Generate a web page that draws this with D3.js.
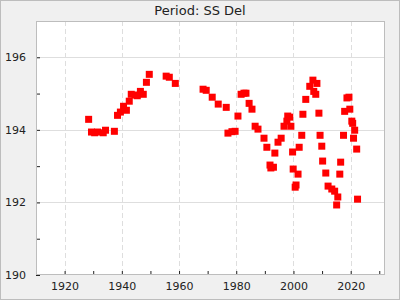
<!DOCTYPE html>
<html><head><meta charset="utf-8">
<script src="https://cdn.jsdelivr.net/npm/d3@7"></script>
<style>html,body{margin:0;padding:0;background:#f0f0f0;}svg{display:block;}</style>
</head><body>
<svg id="c" width="400" height="300"></svg>
<script>
const title = "Period: SS Del";
const years = [1928.4,1929.4,1930.5,1931.5,1933.5,1934.3,1937.4,1938.5,1939.5,1940.6,1941.6,1942.6,1943.3,1944.6,1945.4,1946.5,1947.5,1948.6,1949.6,1955.5,1956.6,1958.7,1968.4,1969.5,1971.6,1973.7,1976.5,1977.1,1978.5,1979.6,1980.6,1981.7,1982.7,1983.4,1984.5,1985.5,1986.6,1987.6,1989.7,1990.7,1991.8,1992.1,1993.0,1993.5,1994.6,1995.7,1996.7,1997.7,1998.0,1998.7,1999.1,1999.7,1999.9,2000.6,2000.9,2001.6,2002.0,2002.9,2003.3,2004.3,2005.7,2006.8,2007.1,2007.8,2008.2,2008.9,2009.3,2009.9,2010.2,2011.3,2012.1,2013.4,2014.4,2015.5,2015.1,2016.2,2016.5,2017.5,2017.9,2018.7,2019.4,2019.7,2020.4,2020.7,2021.4,2021.0,2022.1,2022.4];
const periods = [194.29,193.94,193.92,193.94,193.92,193.99,193.96,194.40,194.49,194.65,194.54,194.79,194.98,194.96,194.94,195.06,194.98,195.31,195.53,195.48,195.45,195.28,195.12,195.09,194.90,194.71,194.62,193.91,193.95,193.96,194.38,194.98,195.01,195.01,194.73,194.57,194.10,194.02,193.77,193.52,193.03,192.95,192.97,193.36,193.66,193.77,194.10,194.24,194.38,194.35,194.10,193.39,192.92,192.42,192.48,192.78,193.52,193.85,194.43,194.84,195.20,195.37,195.06,194.98,195.28,194.46,193.85,193.55,193.14,192.81,192.45,192.37,192.31,192.15,191.93,192.78,193.11,193.85,194.51,194.88,194.90,194.57,194.24,194.18,193.99,193.77,193.47,192.09];
const xDomain = [1910, 2032];
const yDomain = [190, 197];
const xMajor = [1920,1940,1960,1980,2000,2020];
const xMinor = [1910,1930,1950,1970,1990,2010,2030];
const yMajor = [190,192,194,196];
const yMinor = [191,193,195];

const svg = d3.select("#c");
const W = 400, H = 300;
const m = {l:36, r:15, t:21, b:25};
const pw = W - m.l - m.r, ph = H - m.t - m.b;

svg.append("rect").attr("x",0.5).attr("y",0.5).attr("width",W-1).attr("height",H-1)
  .attr("fill","#f0f0f0").attr("stroke","#bdbdbd");

svg.append("text").attr("x",W/2).attr("y",15).attr("text-anchor","middle")
  .attr("font-family","DejaVu Sans").attr("font-size",13).attr("fill","#222").text(title);

const x = d3.scaleLinear().domain(xDomain).range([m.l, m.l+pw]);
const y = d3.scaleLinear().domain(yDomain).range([m.t+ph, m.t]);

svg.append("rect").attr("x",m.l).attr("y",m.t).attr("width",pw).attr("height",ph).attr("fill","#fff");

const g = svg.append("g");
// grid
g.selectAll(".hg").data(yMajor.filter(v=>v>yDomain[0])).enter().append("line")
  .attr("x1",m.l).attr("x2",m.l+pw).attr("y1",d=>Math.round(y(d))+0.5).attr("y2",d=>Math.round(y(d))+0.5)
  .attr("stroke","#dedede").attr("stroke-width",1);
g.selectAll(".vg").data(xMajor).enter().append("line")
  .attr("x1",d=>Math.round(x(d))+0.5).attr("x2",d=>Math.round(x(d))+0.5).attr("y1",m.t).attr("y2",m.t+ph)
  .attr("stroke","#dedede").attr("stroke-width",1).attr("stroke-dasharray","5,3");

// axes (ticks inward)
const xAx = svg.append("g").attr("transform",`translate(0,${m.t+ph})`)
  .call(d3.axisBottom(x).tickValues(xMajor.concat(xMinor)).tickSize(-4).tickFormat(d=>xMajor.includes(d)?d:""));
const yAx = svg.append("g").attr("transform",`translate(${m.l},0)`)
  .call(d3.axisLeft(y).tickValues(yMajor.concat(yMinor)).tickSize(-4).tickFormat(d=>yMajor.includes(d)?d:""));
[xAx,yAx].forEach(a=>{
  a.select(".domain").remove();
  a.selectAll(".tick line").attr("stroke","#222");
  a.selectAll("text").attr("font-family","DejaVu Sans").attr("font-size",11).attr("fill","#222");
});
xAx.selectAll("text").attr("dy","0.71em").attr("y",7);
yAx.selectAll("text").attr("x",-10).attr("dy","0.32em");

// frame
svg.append("rect").attr("x",m.l+0.5).attr("y",m.t+0.5).attr("width",pw-1).attr("height",ph-1)
  .attr("fill","none").attr("stroke","#bdbdbd");

// points
const s = 7;
svg.append("g").selectAll("rect").data(years.map((d,i)=>[d,periods[i]])).enter().append("rect")
  .attr("x",d=>x(d[0])-s/2).attr("y",d=>y(d[1])-s/2).attr("width",s).attr("height",s).attr("fill","#ff0000");
</script>
</body></html>
